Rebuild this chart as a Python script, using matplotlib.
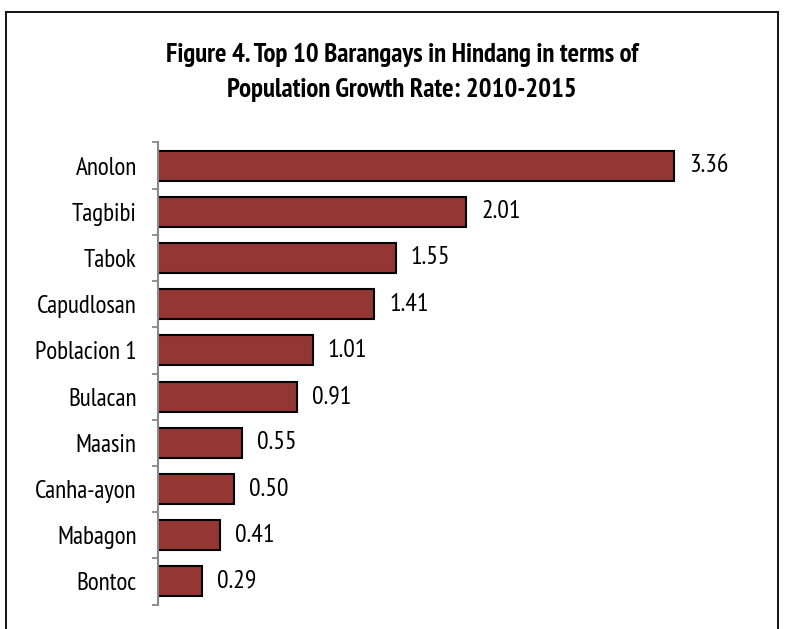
import matplotlib
matplotlib.use("Agg")
import matplotlib.pyplot as plt

FAM = ["PT Sans Narrow", "DejaVu Sans"]

barangays = ["Anolon", "Tagbibi", "Tabok", "Capudlosan", "Poblacion 1",
             "Bulacan", "Maasin", "Canha-ayon", "Mabagon", "Bontoc"]
growth = [3.36, 2.01, 1.55, 1.41, 1.01, 0.91, 0.55, 0.50, 0.41, 0.29]
title_lines = ["Figure 4. Top 10 Barangays in Hindang in terms of",
               "Population Growth Rate: 2010-2015"]

W, H = 785, 629
fig = plt.figure(figsize=(W / 100, H / 100), dpi=100)
fig.patch.set_facecolor("white")

# outer frame (bottom edge cut off)
fx0, fx1, fy = 6 / W, 778 / W, 1 - 12 / H
for xs, ys in [([fx0, fx0], [0, fy]), ([fx0, fx1], [fy, fy]), ([fx1, fx1], [0, fy])]:
    fig.add_artist(plt.Line2D(xs, ys, color="black", lw=1.3, transform=fig.transFigure))

left, right = 157.5, 772
top, bottom = 142.5, 604.5
ax = fig.add_axes([left / W, 1 - bottom / H, (right - left) / W, (bottom - top) / H])

y = list(range(len(barangays)))
ax.barh(y, growth, height=0.65, color="#943634", edgecolor="black", linewidth=1.5)
ax.set_ylim(len(barangays) - 0.5, -0.5)
ax.set_xlim(0, 4)

for yi, v in zip(y, growth):
    ax.annotate(f"{v:.2f}", (v, yi), xytext=(15, 0), textcoords="offset pixels",
                ha="left", va="center", fontsize=18.5, family=FAM)

ax.set_yticks(y)
ax.set_yticklabels(barangays, fontsize=18, family=FAM)
ax.tick_params(axis="y", length=0, pad=15)
ax.set_yticks([i - 0.5 for i in range(len(barangays) + 1)], minor=True)
ax.tick_params(axis="y", which="minor", length=4, width=1.3, color="#898989", direction="out")
ax.set_xticks([])
for s in ["top", "right", "bottom"]:
    ax.spines[s].set_visible(False)
ax.spines["left"].set_color("#898989")
ax.spines["left"].set_linewidth(1.5)

for line, base in zip(title_lines, [62, 97]):
    fig.text(402 / W, 1 - base / H, line, ha="center", va="baseline", fontsize=19.4,
             fontweight="bold", family=FAM)

fig.savefig("out.png", dpi=100)
